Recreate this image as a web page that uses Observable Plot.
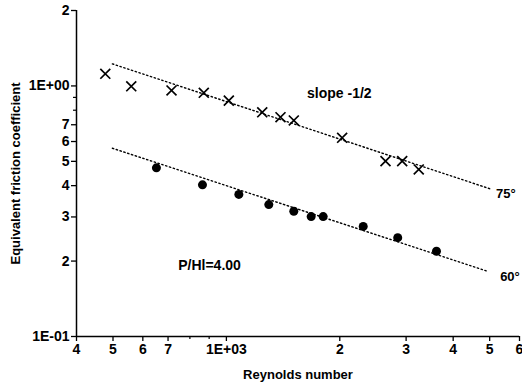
<!DOCTYPE html>
<html><head><meta charset="utf-8">
<script src="https://cdn.jsdelivr.net/npm/d3@7"></script>
<script src="https://cdn.jsdelivr.net/npm/@observablehq/plot@0.6"></script>
<style>body{margin:0;background:#fff;}</style>
</head><body><div id="chart"></div>
<script>
// 75° series (crosses)
const re75 = [477, 559, 715, 871, 1015, 1245, 1392, 1510, 2029, 2645, 2929, 3241];
const f75 = [1.118, 0.997, 0.959, 0.939, 0.874, 0.785, 0.750, 0.728, 0.621, 0.501, 0.501, 0.464];
// 60° series (filled dots)
const re60 = [652, 864, 1079, 1296, 1510, 1679, 1807, 2308, 2850, 3612];
const f60 = [0.471, 0.403, 0.369, 0.336, 0.316, 0.301, 0.301, 0.275, 0.248, 0.219];
// slope -1/2 reference lines (end points)
const fit75Re = [498, 5024];
const fit75F = [1.225, 0.388];
const fit60Re = [498, 4943];
const fit60F = [0.564, 0.182];
// ticks
const xTicks = [400, 500, 600, 700, 1000, 2000, 3000, 4000, 5000, 6000];
const xTickLabels = ["4", "5", "6", "7", "1E+03", "2", "3", "4", "5", "6"];
const xMinorTicks = [800, 900];
const yTicks = [0.1, 0.2, 0.3, 0.4, 0.5, 0.6, 0.7, 1, 2];
const yTickLabels = ["1E-01", "2", "3", "4", "5", "6", "7", "1E+00", "2"];
const yMinorTicks = [0.8, 0.9];
// annotations
const noteCenterText = ["slope -1/2", "P/Hl=4.00"];
const noteCenterRe = [1995, 902];
const noteCenterF = [0.933, 0.192];
const noteStartText = ["75°", "60°"];
const noteStartRe = [5200, 5330];
const noteStartF = [0.372, 0.1735];

const pts75 = re75.map((x, i) => ({x, y: f75[i]}));
const pts60 = re60.map((x, i) => ({x, y: f60[i]}));
const line75 = fit75Re.map((x, i) => ({x, y: fit75F[i]}));
const line60 = fit60Re.map((x, i) => ({x, y: fit60F[i]}));
const notesC = noteCenterText.map((t, i) => ({t, x: noteCenterRe[i], y: noteCenterF[i]}));
const notesS = noteStartText.map((t, i) => ({t, x: noteStartRe[i], y: noteStartF[i]}));

const chart = Plot.plot({
  width: 522, height: 386,
  marginLeft: 76, marginRight: 3, marginTop: 10, marginBottom: 50,
  x: {type: "log", domain: [400, 6000]},
  y: {type: "log", domain: [0.1, 2]},
  style: {fontFamily: "'Liberation Sans', Arial, sans-serif", fontWeight: "bold", background: "white", color: "black"},
  marks: [
    Plot.axisX(xTicks, {text: d => xTickLabels[xTicks.indexOf(d)], tickSize: 5, tickPadding: 3, fontSize: 14, label: null, strokeWidth: 1.3}),
    Plot.axisX(xMinorTicks, {text: () => "", tickSize: 3, label: null, strokeWidth: 1.2}),
    Plot.axisY(yTicks, {text: d => yTickLabels[yTicks.indexOf(d)], tickSize: 5, tickPadding: 2, fontSize: 14, label: null, strokeWidth: 1.3}),
    Plot.axisY(yMinorTicks, {text: () => "", tickSize: 3, label: null, strokeWidth: 1.2}),
    Plot.ruleX([400], {strokeWidth: 1.5}),
    Plot.ruleY([0.1], {strokeWidth: 1.5}),
    Plot.text(["Equivalent friction coefficient"], {text: d => d, frameAnchor: "left", textAnchor: "middle", rotate: -90, dx: -61, fontSize: 13}),
    Plot.text(["Reynolds number"], {text: d => d, frameAnchor: "bottom", dy: 42, fontSize: 13}),
    Plot.line(line75, {x: "x", y: "y", stroke: "black", strokeWidth: 1.4, strokeDasharray: "1.4,2.6"}),
    Plot.line(line60, {x: "x", y: "y", stroke: "black", strokeWidth: 1.4, strokeDasharray: "1.4,2.6"}),
    Plot.dot(pts75, {x: "x", y: "y", symbol: "times", r: 4.6, stroke: "black", strokeWidth: 1.7}),
    Plot.dot(pts60, {x: "x", y: "y", r: 4.5, fill: "black"}),
    Plot.text(notesC, {x: "x", y: "y", text: "t", fontSize: 14, textAnchor: "middle"}),
    Plot.text(notesS, {x: "x", y: "y", text: "t", fontSize: 13, textAnchor: "start"})
  ]
});
document.getElementById("chart").appendChild(chart);
</script>
</body></html>
